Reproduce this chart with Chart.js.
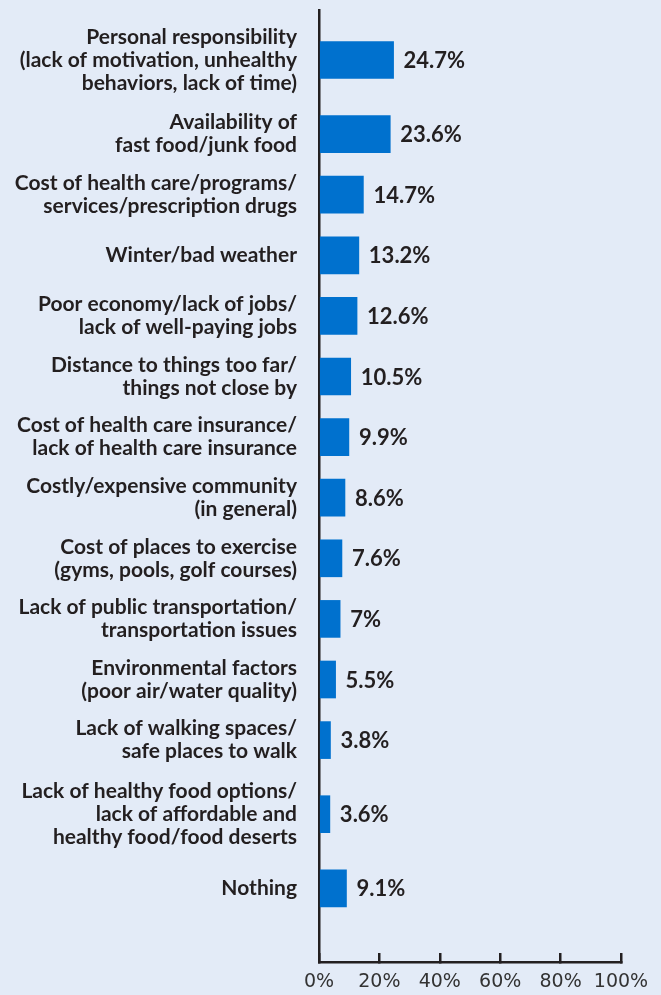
<!DOCTYPE html>
<html>
<head>
<meta charset="utf-8">
<script src="https://cdn.jsdelivr.net/npm/chart.js@4/dist/chart.umd.min.js"></script>
<style>
  html, body { margin: 0; padding: 0; background: #e3ebf7; }
  #wrap { width: 661px; height: 995px; }
</style>
</head>
<body>
<div id="wrap"><canvas id="chart" width="661" height="995"></canvas></div>
<script>
// Barriers named by respondents (share of responses, %)
const categories = [
  ["Personal responsibility", "(lack of motivation, unhealthy", "behaviors, lack of time)"],
  ["Availability of", "fast food/junk food"],
  ["Cost of health care/programs/", "services/prescription drugs"],
  ["Winter/bad weather"],
  ["Poor economy/lack of jobs/", "lack of well-paying jobs"],
  ["Distance to things too far/", "things not close by"],
  ["Cost of health care insurance/", "lack of health care insurance"],
  ["Costly/expensive community", "(in general)"],
  ["Cost of places to exercise", "(gyms, pools, golf courses)"],
  ["Lack of public transportation/", "transportation issues"],
  ["Environmental factors", "(poor air/water quality)"],
  ["Lack of walking spaces/", "safe places to walk"],
  ["Lack of healthy food options/", "lack of affordable and", "healthy food/food deserts"],
  ["Nothing"]
];
const values = [24.7, 23.6, 14.7, 13.2, 12.6, 10.5, 9.9, 8.6, 7.6, 7, 5.5, 3.8, 3.6, 9.1];
const xTickValues = [0, 20, 40, 60, 80, 100];

// Row spacing: rows with three-line labels get extra room around them.
const ROW_GAP = 60.6;
const EXTRA_LINE_GAP = 13.5;
const extraLines = lines => Math.max(0, lines.length - 2);
const rowCenters = [];
categories.forEach((lines, i) => {
  if (i === 0) { rowCenters.push(0); return; }
  const prev = categories[i - 1];
  rowCenters.push(rowCenters[i - 1] + ROW_GAP + EXTRA_LINE_GAP * (extraLines(prev) + extraLines(lines)));
});

const INK = '#231f20';
const BAR = '#0071ce';

// keep the plot area edges fixed regardless of label overhang
const noOverhang = scale => {
  scale.paddingTop = 0; scale.paddingBottom = 0;
  scale.paddingLeft = 0; scale.paddingRight = 0;
};

const valueLabels = {
  id: 'valueLabels',
  afterDatasetsDraw(chart) {
    const ctx = chart.ctx;
    const meta = chart.getDatasetMeta(0);
    ctx.save();
    ctx.font = 'bold 22px Lato';
    ctx.fillStyle = INK;
    ctx.textAlign = 'left';
    ctx.textBaseline = 'middle';
    meta.data.forEach((bar, i) => {
      ctx.fillText(values[i] + '%', bar.x + 10, bar.y + 1);
    });
    ctx.restore();
  }
};

new Chart(document.getElementById('chart'), {
  type: 'bar',
  data: {
    datasets: [{
      data: values.map((v, i) => ({ x: v, y: rowCenters[i] })),
      backgroundColor: BAR,
      borderWidth: 0,
      barThickness: 37
    }]
  },
  options: {
    indexAxis: 'y',
    responsive: false,
    animation: false,
    layout: { padding: { top: 10, right: 40, bottom: 0, left: 0 } },
    plugins: { legend: { display: false }, tooltip: { enabled: false } },
    scales: {
      x: {
        type: 'linear',
        position: 'bottom',
        min: 0,
        max: 100,
        afterBuildTicks: scale => { scale.ticks = xTickValues.map(v => ({ value: v })); },
        afterFit: scale => { scale.height = 33; noOverhang(scale); },
        grid: { drawOnChartArea: false, drawTicks: true, tickLength: -9, color: INK, lineWidth: 2.5 },
        border: { display: true, color: INK, width: 2.5 },
        ticks: {
          padding: 18,
          autoSkip: false,
          maxRotation: 0,
          color: '#333333',
          font: { family: 'DejaVu Sans', size: 19, weight: 'normal' },
          callback: v => v + '%'
        }
      },
      y: {
        type: 'linear',
        reverse: true,
        offset: false,
        min: -50,
        max: 902,
        afterBuildTicks: scale => { scale.ticks = rowCenters.map(v => ({ value: v })); },
        afterFit: scale => { scale.width = 319; noOverhang(scale); },
        grid: { display: false, drawTicks: false },
        border: { display: true, color: INK, width: 2.5 },
        ticks: {
          padding: 22,
          autoSkip: false,
          color: INK,
          font: { family: 'Lato', size: 21, weight: 'bold', lineHeight: 1.1 },
          callback: (v, i) => categories[i]
        }
      }
    }
  },
  plugins: [valueLabels]
});
</script>
</body>
</html>
